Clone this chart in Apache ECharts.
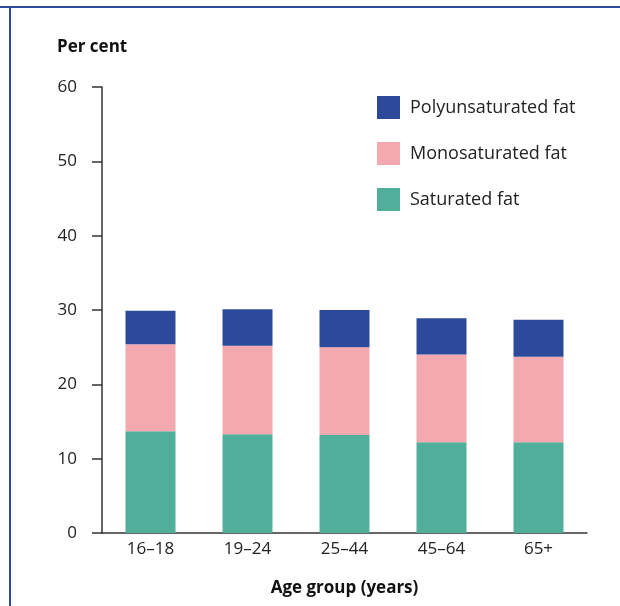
<!DOCTYPE html>
<html>
<head>
<meta charset="utf-8">
<script src="https://cdn.jsdelivr.net/npm/echarts@6/dist/echarts.min.js"></script>
<style>
  html, body { margin: 0; padding: 0; background: #fff; }
  #chart { width: 620px; height: 606px; }
</style>
</head>
<body>
<div id="chart"></div>
<script>
const categories = ['16–18', '19–24', '25–44', '45–64', '65+'];
const saturated = [13.7, 13.3, 13.2, 12.2, 12.2];
const monosaturated = [11.7, 11.9, 11.8, 11.8, 11.5];
const polyunsaturated = [4.5, 4.9, 5.0, 4.9, 5.0];

const FONT = '"Open Sans", sans-serif';
const chart = echarts.init(document.getElementById('chart'));

chart.setOption({
  animation: false,
  textStyle: { fontFamily: FONT },
  grid: { left: 102, right: 33, top: 87, bottom: 73 },
  graphic: [
    { type: 'line', shape: { x1: 0, y1: 7, x2: 620, y2: 7 }, style: { stroke: '#2e4a9b', lineWidth: 2 } },
    { type: 'line', shape: { x1: 10, y1: 7, x2: 10, y2: 606 }, style: { stroke: '#2e4a9b', lineWidth: 2 } },
    { type: 'text', left: 57, top: 39, style: { text: 'Per cent', font: 'bold 17px "Open Sans", sans-serif', fill: '#111' } }
  ],
  legend: {
    data: ['Polyunsaturated fat', 'Monosaturated fat', 'Saturated fat'],
    orient: 'vertical',
    left: 372,
    top: 91,
    itemWidth: 23,
    itemHeight: 23,
    itemGap: 23,
    icon: 'rect',
    textStyle: { fontSize: 18, color: '#222', fontFamily: FONT, padding: [0, 0, 0, 5] }
  },
  xAxis: {
    type: 'category',
    data: categories,
    name: 'Age group (years)',
    nameLocation: 'middle',
    nameGap: 47,
    nameTextStyle: { fontSize: 17, fontWeight: 'bold', color: '#111' },
    axisLine: { lineStyle: { color: '#333', width: 1.5 } },
    axisTick: { show: false },
    axisLabel: { fontSize: 17, color: '#222', margin: 8 }
  },
  yAxis: {
    type: 'value',
    min: 0,
    max: 60,
    interval: 10,
    axisLine: { show: true, lineStyle: { color: '#333', width: 1.5 } },
    axisTick: { show: true, length: 10, lineStyle: { color: '#333', width: 1.5 } },
    splitLine: { show: false },
    axisLabel: { fontSize: 17, color: '#222', margin: 25 }
  },
  series: [
    { name: 'Saturated fat', type: 'bar', stack: 'fat', data: saturated, barWidth: 50, itemStyle: { color: '#50ae9b' } },
    { name: 'Monosaturated fat', type: 'bar', stack: 'fat', data: monosaturated, itemStyle: { color: '#f4a9b0' } },
    { name: 'Polyunsaturated fat', type: 'bar', stack: 'fat', data: polyunsaturated, itemStyle: { color: '#2d4a9a' } }
  ]
});
</script>
</body>
</html>
